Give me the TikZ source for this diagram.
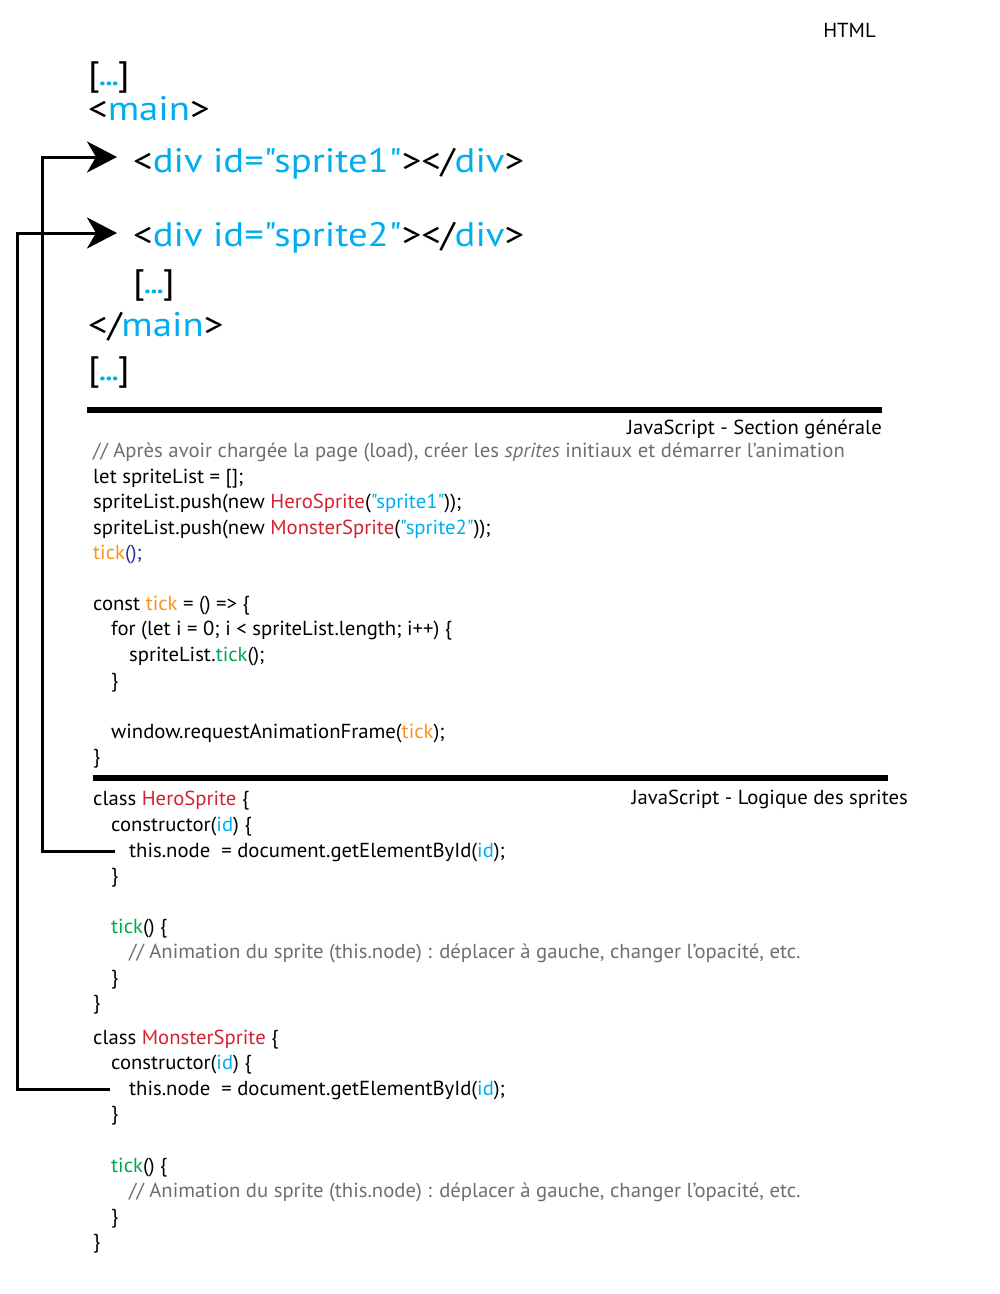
\documentclass[tikz,border=0pt]{standalone}
\usepackage{fontspec}
\setmainfont{PT Sans}[Ligatures=TeXOff]
\newfontfamily\codef{PT Sans}[Ligatures=TeXOff, FakeStretch=1.02]
\newfontfamily\bigf{PT Sans}[Ligatures=TeXOff, FakeStretch=1.14]
\usetikzlibrary{arrows.meta}
\definecolor{cy}{RGB}{0,174,239}
\definecolor{rd}{RGB}{210,35,48}
\definecolor{og}{RGB}{247,148,29}
\definecolor{gn}{RGB}{0,166,81}
\definecolor{gy}{RGB}{109,110,113}
\definecolor{db}{RGB}{46,49,146}
\newcommand{\elli}{[\textcolor{cy}{\kern-1.5pt.\kern-2pt.\kern-2pt.\kern-1.5pt}]}
\begin{document}
\begin{tikzpicture}[x=1pt,y=-1pt,
  code/.style={anchor=base west, inner sep=0pt, font=\codef\fontsize{20.3}{24}\selectfont},
  big/.style={anchor=base west, inner sep=0pt, font=\bigf\fontsize{34}{40}\selectfont},
  title/.style={anchor=base east, inner sep=0pt, font=\codef\fontsize{20.3}{24}\selectfont},
  rule/.style={line width=6pt},
  conn/.style={line width=3pt, -{Stealth[length=30pt,width=31pt,inset=9pt]}}]
\useasboundingbox (0,0) rectangle (1000,1294);

% HTML part
\node[title] (thtml) at (876,37) {HTML};
\node[big] (h1) at (88,85) {\elli};
\node[big] (h2) at (88,120) {<\textcolor{cy}{main}>};
\node[big] (d1) at (133,172) {<\textcolor{cy}{div id="sprite1"}></\textcolor{cy}{div}>};
\node[big] (d2) at (133,246) {<\textcolor{cy}{div id="sprite2"}></\textcolor{cy}{div}>};
\node[big] (h5) at (133,293) {\elli};
\node[big] (h6) at (88,336) {</\textcolor{cy}{main}>};
\node[big] (h7) at (88,380) {\elli};

% Section generale
\draw[rule] (87,410) -- (882,410);
\node[title] (tgen) at (882,434) {JavaScript - Section générale};
\node[code] (g1) at (93,457) {\textcolor{gy}{// Après avoir chargée la page (load), créer les \textit{sprites} initiaux et démarrer l’animation}};
\node[code] (g2) at (93,483) {let spriteList = [];};
\node[code] (g3) at (93,508) {spriteList.push(new \textcolor{rd}{HeroSprite}(\textcolor{cy}{"sprite1"}));};
\node[code] (g4) at (93,534) {spriteList.push(new \textcolor{rd}{MonsterSprite}(\textcolor{cy}{"sprite2"}));};
\node[code] (g5) at (93,559) {\textcolor{og}{tick}\textcolor{db}{();}};
\node[code] (g6) at (93,610) {const \textcolor{og}{tick} = () => \{};
\node[code] (g7) at (111,635) {for (let i = 0; i < spriteList.length; i++) \{};
\node[code] (g8) at (129,661) {spriteList.\textcolor{gn}{tick}();};
\node[code] (g9) at (111,687) {\}};
\node[code] (g10) at (111,738) {window.requestAnimationFrame(\textcolor{og}{tick});};
\node[code] (g11) at (93,763) {\}};

% Logique des sprites
\draw[rule] (93,778) -- (888,778);
\node[title] (tlog) at (908,804) {JavaScript - Logique des sprites};
\node[code] (c1) at (93,805) {class \textcolor{rd}{HeroSprite} \{};
\node[code] (c2) at (111,831) {constructor(\textcolor{cy}{id}) \{};
\node[code] (c3) at (129,857) {this.node\ \ = document.getElementById(\textcolor{cy}{id});};
\node[code] (c4) at (111,882) {\}};
\node[code] (c5) at (111,933) {\textcolor{gn}{tick}() \{};
\node[code] (c6) at (129,958) {\textcolor{gy}{// Animation du sprite (this.node) : déplacer à gauche, changer l’opacité, etc.}};
\node[code] (c7) at (111,984) {\}};
\node[code] (c8) at (93,1009) {\}};
\node[code] (m1) at (93,1044) {class \textcolor{rd}{MonsterSprite} \{};
\node[code] (m2) at (111,1069) {constructor(\textcolor{cy}{id}) \{};
\node[code] (m3) at (129,1095) {this.node\ \ = document.getElementById(\textcolor{cy}{id});};
\node[code] (m4) at (111,1120) {\}};
\node[code] (m5) at (111,1172) {\textcolor{gn}{tick}() \{};
\node[code] (m6) at (129,1197) {\textcolor{gy}{// Animation du sprite (this.node) : déplacer à gauche, changer l’opacité, etc.}};
\node[code] (m7) at (111,1223) {\}};
\node[code] (m8) at (93,1248) {\}};

% connectors
\coordinate (s1) at ([shift={(-14,-6)}]c3.base west);
\coordinate (s2) at ([shift={(-19,-6)}]m3.base west);
\coordinate (e1) at ([shift={(-16,-15)}]d1.base west);
\coordinate (e2) at ([shift={(-16,-13)}]d2.base west);
\coordinate (k1) at (42,500);
\coordinate (k2) at (17,500);
\draw[conn] (s1) -| (k1 |- e1) -- (e1);
\draw[conn] (s2) -| (k2 |- e2) -- (e2);
\end{tikzpicture}
\end{document}
